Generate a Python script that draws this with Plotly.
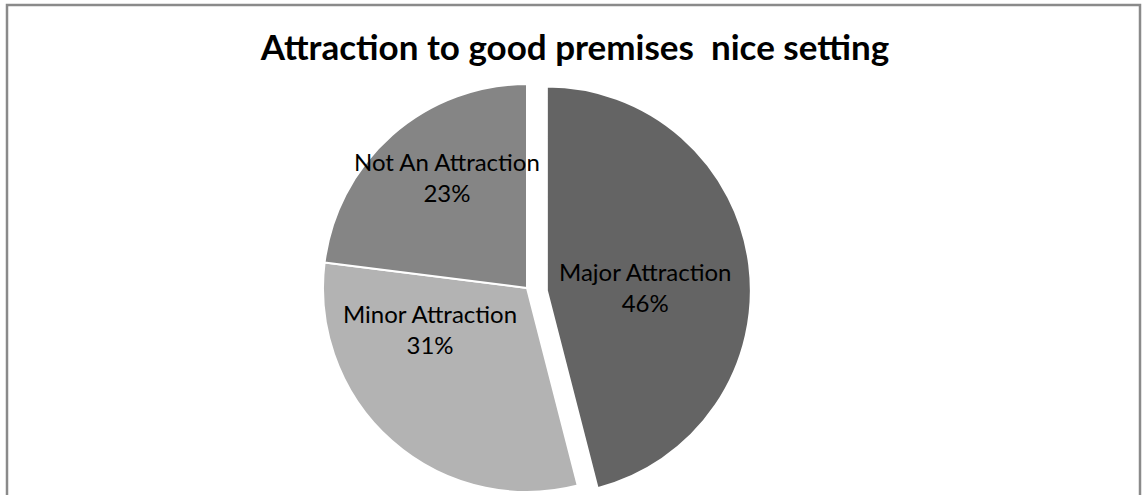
import math
import plotly.graph_objects as go

# Survey shares for the "good premises / nice setting" attraction question
categories = ["Major Attraction", "Minor Attraction", "Not An Attraction"]
shares = [46, 31, 23]
slice_colors = ["#646464", "#b3b3b3", "#858585"]
title_text = "Attraction to good premises  nice setting"

W, H = 1144, 495
CX, CY, R = 527, 288, 204          # pie centre / radius in pixels
PULL_PX = 20                       # how far the first slice is pulled out

# where each data label block sits (pixel centre), in category order
label_pos = [(645, 287), (430, 329), (447, 177)]

def px_domain(cx, cy, r):
    return dict(x=[(cx - r) / W, (cx + r) / W],
                y=[1 - (cy + r) / H, 1 - (cy - r) / H])

# direction of the pulled slice: middle of its angular span, clockwise from 12 o'clock
mid = math.radians(shares[0] / sum(shares) * 360 / 2)
dx, dy = PULL_PX * math.sin(mid), PULL_PX * math.cos(mid)

clear = "rgba(0,0,0,0)"
common = dict(labels=categories, values=shares, sort=False, direction="clockwise",
              rotation=0, textinfo="none", hoverinfo="label+percent", showlegend=False)

fig = go.Figure()
# remaining slices, centred on the pie centre
fig.add_trace(go.Pie(
    **common,
    domain=px_domain(CX, CY, R),
    marker=dict(colors=[clear] + slice_colors[1:],
                line=dict(color=[clear, "#ffffff", "#ffffff"], width=2)),
))
# pulled-out first slice
fig.add_trace(go.Pie(
    **common,
    domain=px_domain(CX + dx, CY + dy, R),
    marker=dict(colors=[slice_colors[0]] + [clear] * (len(shares) - 1),
                line=dict(color=["#ffffff"] + [clear] * (len(shares) - 1), width=2)),
))

# data labels: category name and its share of the total
total = sum(shares)
annotations = []
for name, value, (lx, ly) in zip(categories, shares, label_pos):
    annotations.append(dict(
        text=f"{name}<br>{round(100 * value / total)}%",
        x=lx / W, y=1 - ly / H, xref="paper", yref="paper",
        xanchor="center", yanchor="middle", showarrow=False, align="center",
        font=dict(family="Lato", size=24, color="#000000"),
    ))

fig.update_layout(
    width=W, height=H,
    margin=dict(l=0, r=0, t=0, b=0),
    paper_bgcolor="#ffffff",
    title=dict(text=title_text, x=575 / W, xanchor="center",
               y=1 - 48 / H, yref="container", yanchor="middle",
               font=dict(family="Lato", size=35, color="#000000", weight="bold")),
    annotations=annotations,
    shapes=[dict(type="rect", xref="paper", yref="paper",
                 x0=7 / W, x1=1140 / W, y0=-0.2, y1=1 - 5 / H,
                 line=dict(color="#8a8a8a", width=2.5), fillcolor=clear, layer="below")],
)

fig.write_html("out.html")
